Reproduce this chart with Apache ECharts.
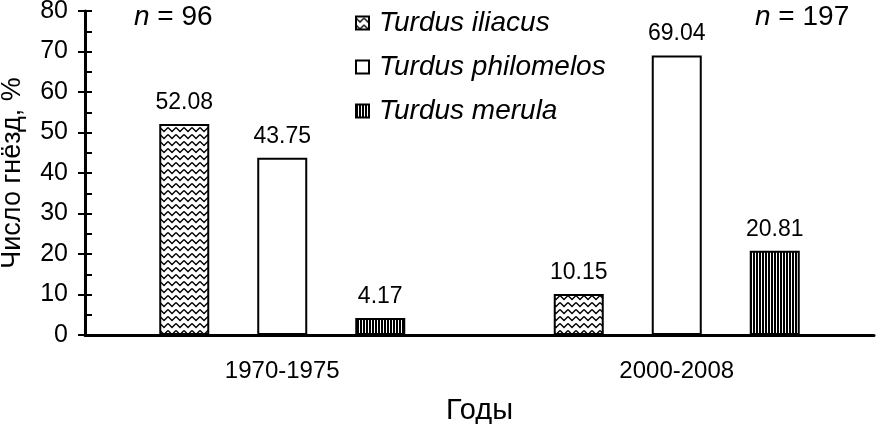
<!DOCTYPE html>
<html>
<head>
<meta charset="utf-8">
<script src="https://cdn.jsdelivr.net/npm/echarts@6/dist/echarts.min.js"></script>
<style>
  html, body { margin: 0; padding: 0; background: #fff; }
  #chart { width: 876px; height: 424px; }
</style>
</head>
<body>
<div id="chart"></div>
<script>
const periods = ['1970-1975', '2000-2008']
const iliacus = [52.08, 10.15]
const philomelos = [43.75, 69.04]
const merula = [4.17, 20.81]
const sampleSizes = ['96', '197']

const FONT = '"Liberation Sans", Arial, sans-serif'

// hatch fills drawn on small canvases
const makePattern = (w, h, draw) => {
  const c = document.createElement('canvas')
  c.width = w; c.height = h
  const ctx = c.getContext('2d')
  ctx.fillStyle = '#fff'
  ctx.fillRect(0, 0, w, h)
  draw(ctx)
  return { image: c, repeat: 'repeat' }
}
const zigzag = makePattern(8, 7, ctx => {
  ctx.strokeStyle = '#000'
  ctx.lineWidth = 1.4
  ctx.beginPath()
  ctx.moveTo(0, 1.5); ctx.lineTo(4, 5.5); ctx.lineTo(8, 1.5)
  ctx.stroke()
})
const stripes = makePattern(3, 4, ctx => {
  ctx.fillStyle = '#000'
  ctx.fillRect(0, 0, 2, 4)
})

const label = {
  show: true, position: 'top', distance: 10,
  color: '#000', fontFamily: FONT, fontSize: 23,
  formatter: p => p.value.toFixed(2)
}
const bar = (name, data, fill) => ({
  name, type: 'bar', data, barWidth: 50, barGap: '96%',
  itemStyle: { color: fill, borderColor: '#000', borderWidth: 2 },
  label
})

const nText = (left, n) => ({
  type: 'text', left, top: 3,
  style: {
    text: '{i|n} = ' + n, fontFamily: FONT, fontSize: 28, fill: '#000',
    rich: { i: { fontStyle: 'italic', fontFamily: FONT, fontSize: 28 } }
  }
})

const chart = echarts.init(document.getElementById('chart'))
chart.setOption({
  animation: false,
  backgroundColor: '#fff',
  grid: { left: 85, right: 2, top: 11, bottom: 89, outerBoundsMode: 'none' },
  legend: {
    orient: 'vertical', left: 350, top: 4,
    itemWidth: 13, itemHeight: 13, itemGap: 16,
    icon: 'rect',
    textStyle: { fontFamily: FONT, fontStyle: 'italic', fontSize: 28, color: '#000', padding: [0, 0, 0, 5] },
    data: ['Turdus iliacus', 'Turdus philomelos', 'Turdus merula']
  },
  xAxis: {
    type: 'category', data: periods,
    name: 'Годы', nameLocation: 'middle', nameGap: 61,
    nameTextStyle: { fontFamily: FONT, fontSize: 29, color: '#000' },
    axisLine: { lineStyle: { color: '#000', width: 3 } },
    axisTick: { length: 9, lineStyle: { color: '#000', width: 2 } },
    axisLabel: { fontFamily: FONT, fontSize: 24, color: '#000', margin: 24 }
  },
  yAxis: [{
    type: 'value', min: 0, max: 80, interval: 10,
    name: 'Число гнёзд, %', nameLocation: 'middle', nameGap: 59,
    nameTextStyle: { fontFamily: FONT, fontSize: 27, color: '#000' },
    axisLine: { show: true, lineStyle: { color: '#000', width: 3 } },
    axisTick: { show: true, length: 7, lineStyle: { color: '#000', width: 2 } },
    axisLabel: { fontFamily: FONT, fontSize: 25, color: '#000', margin: 17 },
    splitLine: { show: false }
  }, {
    // inner half of the crossing ticks plus minor ticks
    type: 'value', min: 0, max: 80, interval: 10, position: 'left',
    axisLine: { show: false },
    axisTick: { show: true, inside: true, length: 7, lineStyle: { color: '#000', width: 2 } },
    minorTick: { show: true, splitNumber: 2, length: 7, lineStyle: { color: '#000', width: 2 } },
    axisLabel: { show: false },
    splitLine: { show: false }
  }],
  graphic: [nText(134, sampleSizes[0]), nText(755, sampleSizes[1])],
  series: [
    bar('Turdus iliacus', iliacus, zigzag),
    bar('Turdus philomelos', philomelos, '#fff'),
    bar('Turdus merula', merula, stripes)
  ]
})
</script>
</body>
</html>
